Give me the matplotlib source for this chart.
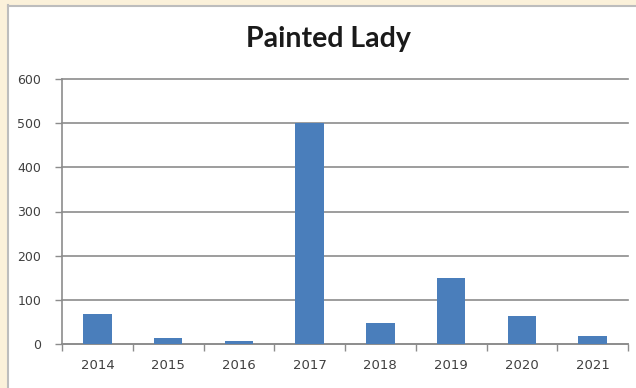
import matplotlib.pyplot as plt
from matplotlib.patches import Rectangle
from matplotlib.lines import Line2D

years = ['2014', '2015', '2016', '2017', '2018', '2019', '2020', '2021']
counts = [68, 14, 7, 500, 47, 150, 64, 19]
yticks = [0, 100, 200, 300, 400, 500, 600]

bar_color = '#4A7EBB'
grid_color = '#8C8C8C'
text_color = '#404040'

fig = plt.figure(figsize=(6.36, 3.88), dpi=100)
fig.patch.set_facecolor('white')

# beige frame strips along the left and top edges
fig.patches.append(Rectangle((0, 0), 7 / 636, 1, transform=fig.transFigure,
                             facecolor='#FBF1DA', edgecolor='none', zorder=0))
fig.patches.append(Rectangle((0, 1 - 5 / 388), 1, 5 / 388, transform=fig.transFigure,
                             facecolor='#FBF1DA', edgecolor='none', zorder=0))
fig.lines.append(Line2D([7.5 / 636, 7.5 / 636], [0, 1 - 5 / 388], transform=fig.transFigure,
                        color='#BDBDBD', lw=1.5))
fig.lines.append(Line2D([7.5 / 636, 1], [1 - 5.5 / 388, 1 - 5.5 / 388], transform=fig.transFigure,
                        color='#BDBDBD', lw=1.5))

ax = fig.add_axes([62 / 636, 1 - 344 / 388, 566 / 636, 265 / 388])
x = range(len(years))
ax.bar(x, counts, width=0.4, color=bar_color, zorder=3)

ax.set_xlim(-0.5, len(years) - 0.5)
ax.set_ylim(0, 600)
ax.set_yticks(yticks)
ax.set_yticklabels([str(v) for v in yticks])
ax.yaxis.grid(True, color=grid_color, lw=1.2, zorder=0)
for gl in ax.get_ygridlines():
    gl.set_clip_on(False)

ax.set_xticks([i + 0.5 for i in range(-1, len(years))], minor=False)
ax.set_xticklabels([])
ax.set_xticks(list(x), minor=True)
ax.set_xticklabels(years, minor=True)
ax.tick_params(axis='x', which='major', direction='out', length=5, color=grid_color, width=1)
ax.tick_params(axis='x', which='minor', length=0, pad=11, labelsize=9.5, labelcolor=text_color)
ax.tick_params(axis='y', direction='out', length=5, color=grid_color, width=1,
               pad=10, labelsize=9, labelcolor=text_color)

for side in ['top', 'right']:
    ax.spines[side].set_visible(False)
for side in ['left', 'bottom']:
    ax.spines[side].set_color(grid_color)
    ax.spines[side].set_linewidth(1.2)

fig.text(328 / 636, 1 - 39 / 388, 'Painted Lady', ha='center', va='center',
         fontsize=20.5, fontweight='bold', family='Lato', color='#1A1A1A')

fig.savefig('out.png', dpi=100)
